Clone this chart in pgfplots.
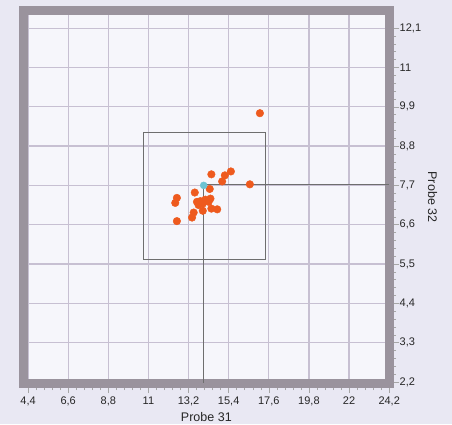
\documentclass[border=0pt]{standalone}
\usepackage{pgfplots}
\pgfplotsset{compat=1.18}
\usepackage{fontspec}
\setmainfont{Liberation Sans}
\definecolor{bgout}{HTML}{E9E8F3}
\definecolor{bgin}{HTML}{F6F6FB}
\definecolor{frame}{HTML}{9A939D}
\definecolor{gridc}{HTML}{C7C0D2}
\definecolor{dots}{HTML}{EE5A1E}
\definecolor{cyanpt}{HTML}{6CC3D2}
\definecolor{linec}{HTML}{6E6E6E}
\begin{document}
\begin{tikzpicture}
\fill[bgout] (0,0) rectangle (452pt,424pt);
\path[use as bounding box] (0,0) rectangle (452pt,424pt);
\begin{axis}[
  at={(23.5pt,41pt)}, anchor=south west,
  scale only axis, width=365.7pt, height=372pt,
  xmin=4.15, xmax=24.2, ymin=2.17, ymax=12.58,
  xtick={4.4,6.6,8.8,11,13.2,15.4,17.6,19.8,22,24.2},
  ytick={2.2,3.3,4.4,5.5,6.6,7.7,8.8,9.9,11,12.1},
  minor tick num=4,
  xtick pos=bottom, ytick pos=right,
  yticklabel pos=right,
  tick align=outside,
  major tick length=10pt, minor tick length=7pt,
  tick style={color=gray!70, line width=0.5pt},
  grid=major,
  major grid style={color=gridc, line width=1.3pt},
  axis line style={color=frame, line width=9pt},
  axis background/.style={fill=bgin},
  /pgf/number format/use comma,
  /pgf/number format/assume math mode=true,
  ticklabel style={font=\fontsize{11}{13}\selectfont, text=black!85},
  yticklabel style={xshift=-3pt},
  xlabel={Probe 31}, ylabel={Probe 32},
  label style={font=\fontsize{12.5}{14}\selectfont, text=black!85},
  ylabel style={rotate=180},
  clip=false,
]
\addplot[linec, line width=1pt] coordinates {(10.71,5.615) (17.44,5.615) (17.44,9.19) (10.71,9.19) (10.71,5.615)};
\addplot[linec, line width=1pt] coordinates {(14.03,7.72) (14.03,2.17)};
\addplot[linec, line width=1pt] coordinates {(14.03,7.72) (24.2,7.72)};
\addplot[only marks, mark=*, mark size=3.8pt, color=dots, mark options={draw=none, fill=dots}] coordinates {
(17.11,9.72) (14.45,8.01) (15.19,7.98) (15.52,8.09) (15.04,7.81) (16.56,7.73)
(14.36,7.60) (13.54,7.50) (12.56,7.35) (12.47,7.21) (13.66,7.24) (13.85,7.26)
(14.12,7.30) (14.40,7.33) (14.30,7.24) (13.98,7.19) (13.75,7.15) (14.45,7.05)
(14.77,7.03) (13.98,6.99) (13.48,6.94) (13.39,6.80) (12.56,6.70)
};
\addplot[only marks, mark=*, mark size=3.5pt, color=cyanpt, mark options={draw=none, fill=cyanpt}] coordinates {(14.03,7.70)};
\end{axis}
\end{tikzpicture}
\end{document}
